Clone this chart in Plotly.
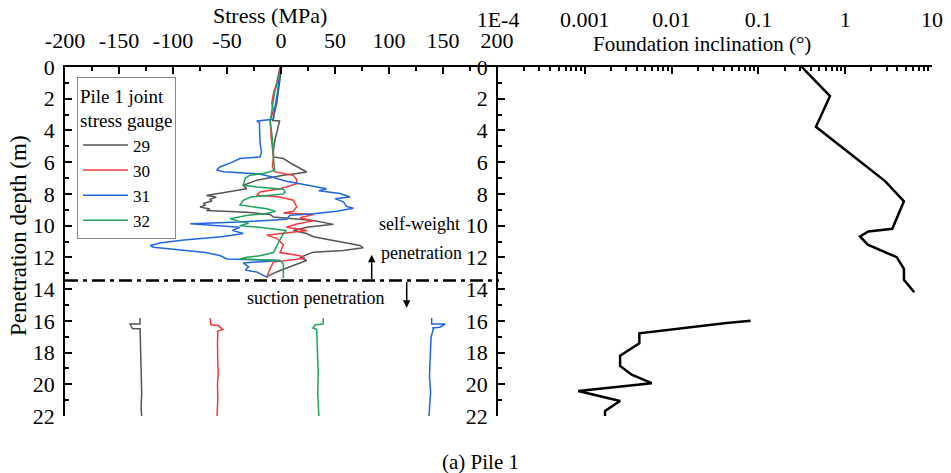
import plotly.graph_objects as go

FONT = "Liberation Serif"

# ---------------- data: stress gauges (depth in m, stress in MPa) ----------------
gauge_names = ["29", "30", "31", "32"]
gauge_colors = ["#555555", "#F03A3A", "#1F66E0", "#1FA35A"]

# self-weight penetration stage
d29_sw = [0, 1.2, 2.3, 2.9, 3.38, 3.41, 3.45, 4.6, 5.24, 5.67, 5.77, 6.1, 6.4, 6.62, 6.72, 6.83,
          7.14, 7.45, 7.67, 7.9, 7.98, 8.1, 8.2, 8.35, 8.45, 8.6, 8.7, 8.83, 8.95, 9.04, 9.15, 9.3,
          9.46, 9.67, 9.92, 10.1, 10.3, 10.5, 10.7, 11.04, 11.25, 11.4, 11.57, 11.67, 12.0, 12.2,
          12.5, 12.83, 13.1, 13.25]
s29_sw = [0.6, -1.5, -4, -6.2, -7.7, -0.9, -1.5, -5.6, -7, -7, 2.2, 10, 17.6, 23.8, 14.5, 2.2,
          -22.5, -35, -31.8, -53, -62, -69, -60, -66, -64, -72, -70, -75, -66, -69, -31.8, -10,
          -7, 30, 48.5, 23.8, 11.4, 23.8, 30, 57.7, 73, 76.2, 57.7, 30, 17.6, 23.8,
          11.4, -0.9, -10, -13.3]

d30_sw = [0, 1.0, 1.66, 2.3, 2.7, 3.4, 4.5, 5.67, 6.3, 6.6, 6.83, 7.1, 7.35, 7.55, 7.67, 7.88,
          8.09, 8.2, 8.4, 8.82, 9.1, 9.2, 9.3, 9.5, 9.7, 9.9, 10.1, 10.3, 10.45, 10.6, 10.8, 11.2,
          11.7, 11.9, 12.05, 12.2, 12.3, 12.7, 13.1, 13.25]
s30_sw = [-1, -4, -7, -8.6, -7, -10, -9, -7, -8, -6, 11.4, 14.5, 14.5, 5, -0.9, -19.4,
          -22.5, -1, 11.4, 14.5, 11.4, 2.2, 30, 17.6, 30, 14.5, 5, 24, 2, -13.3, -4, 2.2,
          -0.9, 17.6, 22, 5.2, -7, -10, -12, -13.3]

d31_sw = [0, 1.5, 2.5, 3.3, 3.41, 3.5, 4.82, 5.35, 5.67, 5.77, 6.0, 6.3, 6.5, 6.6, 6.75, 6.9,
          7.2, 7.45, 7.67, 7.8, 7.98, 8.19, 8.3, 8.5, 8.8, 8.9, 9.1, 9.25, 9.35, 9.6, 9.77, 9.88,
          10.0, 10.1, 10.3, 10.5, 10.7, 10.9, 11.1, 11.25, 11.36, 11.5, 11.7, 11.88, 12.1, 12.2,
          12.35, 12.6, 12.8, 12.93, 13.25]
s31_sw = [-0.9, -3, -5.5, -7, -22.5, -20, -19.4, -18, -19.4, -38, -45, -56.5, -59.6, -53, -20, -10,
          5, 23.8, 42.3, 35, 54.6, 64, 50, 57.7, 61, 67, 51.5, 30, 8.3, 5, -38, -84,
          -60, -38, -45, -35, -55, -90, -112, -121, -118, -100, -70, -56.5, -50, -1,
          -35, -30, -33, -22, -13.3]

d32_sw = [0, 1.66, 3.4, 4.5, 5.67, 6.5, 6.7, 6.82, 7.0, 7.35, 7.46, 7.56, 7.7, 7.88, 8.0, 8.2,
          8.4, 8.7, 8.93, 9.1, 9.25, 9.36, 9.57, 9.7, 9.85, 10.0, 10.1, 10.3, 10.5, 10.9, 11.3,
          11.7, 11.9, 12.0, 12.1, 12.2, 12.4, 13.3]
s32_sw = [0, -6, -10, -8, -7, -6, -15, -28.7, -33, -35, -35, -22.5, 2.2, 4, 2, -28,
          -35, -38, -13, -5, -15, -32, -47, -40, -30, -38, -20, 5, 2.2, -1, -4,
          -7, -19.6, -32, -38, -1, 2.2, 2.2]

# suction penetration stage
d29_su = [15.82, 16.2, 16.2, 16.5, 16.5, 17.5, 18.5, 19.5, 20.5, 21.5, 22.0]
s29_su = [-130.5, -130.5, -139.8, -137.4, -130.5, -130, -129.5, -129.5, -129, -129.5, -129]
d30_su = [15.82, 16.25, 16.3, 16.55, 16.65, 17.5, 18.8, 19.2, 20.0, 21.0, 22.0]
s30_su = [-65.5, -65, -58, -54, -58.5, -58.8, -58.5, -58, -58.8, -58.5, -59.3]
d31_su = [15.82, 16.2, 16.2, 16.4, 16.45, 16.55, 17.0, 17.5, 18.5, 19.5, 20.5, 21.5, 22.0]
s31_su = [139.5, 139.5, 152, 147, 140.5, 141, 139, 138.5, 138, 137.5, 138.5, 137.5, 137]
d32_su = [15.82, 16.2, 16.25, 16.45, 16.55, 17.5, 19.0, 19.3, 20.5, 21.5, 22.0]
s32_su = [39.2, 38.9, 32, 29.5, 33, 33.5, 33.8, 34.5, 34, 34.6, 35]

# ---------------- data: foundation inclination ----------------
incl_depth_sw = [0, 1.83, 3.77, 7.19, 8.47, 10.2, 10.37, 10.68, 11.2, 11.99, 12.73, 13.42, 14.2]
incl_val_sw = [0.316, 0.668, 0.46, 2.88, 4.75, 3.49, 1.85, 1.48, 1.82, 3.92, 4.75, 4.75, 6.25]
incl_depth_su = [16.0, 16.14, 16.79, 17.42, 18.2, 18.84, 19.4, 19.93, 20.42, 21.05, 21.68, 22.0]
incl_val_su = [0.0815, 0.043, 0.00425, 0.00425, 0.00255, 0.00255, 0.00347, 0.0059, 0.00084,
               0.00255, 0.00171, 0.00171]

# ---------------- tick labels ----------------
stress_ticks = [-200, -150, -100, -50, 0, 50, 100, 150, 200]
stress_ticktext = ["-200", "-150", "-100", "-50", "0", "50", "100", "150", "200"]
stress_minor = [-175, -125, -75, -25, 25, 75, 125, 175]
depth_ticks = list(range(0, 23, 2))
incl_ticks = [1e-4, 1e-3, 1e-2, 1e-1, 1, 10]
incl_ticktext = ["1E-4", "0.001", "0.01", "0.1", "1", "10"]
incl_minor = [m * 10 ** e for e in range(-4, 1) for m in range(2, 10)]

boundary_depth = 13.46

fig = go.Figure()

gauges = [(d29_sw, s29_sw, d29_su, s29_su), (d30_sw, s30_sw, d30_su, s30_su),
          (d31_sw, s31_sw, d31_su, s31_su), (d32_sw, s32_sw, d32_su, s32_su)]
for name, color, (dsw, ssw, dsu, ssu) in zip(gauge_names, gauge_colors, gauges):
    fig.add_trace(go.Scatter(
        x=ssw + [None] + ssu, y=dsw + [None] + dsu, mode="lines", name=name,
        line=dict(color=color, width=1.5), xaxis="x", yaxis="y", connectgaps=False))

fig.add_trace(go.Scatter(
    x=incl_val_sw + [None] + incl_val_su, y=incl_depth_sw + [None] + incl_depth_su,
    mode="lines", line=dict(color="black", width=2.5), showlegend=False,
    xaxis="x2", yaxis="y2", connectgaps=False))

W, H = 951, 473
ydom = [1 - 416 / H, 1 - 67 / H]
tickfont = dict(family=FONT, size=22, color="black")
axis_common = dict(showline=True, linecolor="black", linewidth=1.5, showgrid=False,
                   zeroline=False, ticks="inside", tickcolor="black", tickwidth=1.5,
                   tickfont=tickfont, mirror=False, automargin=False)

fig.update_layout(
    width=W, height=H, margin=dict(l=0, r=0, t=0, b=0, autoexpand=False),
    paper_bgcolor="white", plot_bgcolor="white",
    font=dict(family=FONT, color="black"),
    xaxis=dict(domain=[65 / W, 497 / W], range=[-200, 200], side="top", anchor="y",
               tickvals=stress_ticks, ticktext=stress_ticktext, ticklen=7,
               minor=dict(tickvals=stress_minor, ticks="inside", ticklen=4,
                          tickcolor="black", tickwidth=1.5),
               ticklabelstandoff=8, **axis_common),
    yaxis=dict(domain=ydom, range=[22, 0], anchor="x", tickvals=depth_ticks, ticklen=7,
               minor=dict(dtick=1, ticks="inside", ticklen=4, tickcolor="black", tickwidth=1.5),
               ticklabelstandoff=4, **axis_common),
    xaxis2=dict(domain=[498 / W, 932 / W], type="log", range=[-4, 1], side="top", anchor="y2",
                tickvals=incl_ticks, ticktext=incl_ticktext, ticklen=7,
                minor=dict(tickvals=incl_minor, ticks="inside", ticklen=4,
                           tickcolor="black", tickwidth=1.5),
                ticklabelstandoff=29, **axis_common),
    yaxis2=dict(domain=ydom, range=[22, 0], anchor="x2", tickvals=depth_ticks, ticklen=7,
                minor=dict(dtick=1, ticks="inside", ticklen=4, tickcolor="black", tickwidth=1.5),
                ticklabelstandoff=4, **axis_common),
    legend=dict(x=77 / W, y=1 - 77 / H, xanchor="left", yanchor="top",
                bordercolor="#888888", borderwidth=1, bgcolor="white",
                font=dict(family=FONT, size=17, color="black"),
                title=dict(text="Pile 1 joint<br>stress gauge",
                           font=dict(family=FONT, size=19, color="black")),
                itemwidth=45, tracegroupgap=0),
    showlegend=True,
)

# boundary between self-weight and suction penetration
fig.add_shape(type="line", xref="paper", yref="y", x0=65 / W, x1=499 / W,
              y0=boundary_depth, y1=boundary_depth,
              line=dict(color="black", width=2.5, dash="13px,5px,4px,5px"))

ann_font = dict(family=FONT, size=18, color="black")
fig.add_annotation(x=84, y=11.84, ax=84, ay=boundary_depth, xref="x", yref="y",
                   axref="x", ayref="y", text="", showarrow=True, arrowhead=2,
                   arrowsize=1, arrowwidth=1.5, arrowcolor="black")
fig.add_annotation(x=116.4, y=15.18, ax=116.4, ay=boundary_depth, xref="x", yref="y",
                   axref="x", ayref="y", text="", showarrow=True, arrowhead=2,
                   arrowsize=1, arrowwidth=1.5, arrowcolor="black")
fig.add_annotation(x=127.8, y=9.89, xref="x", yref="y", text="self-weight",
                   showarrow=False, font=ann_font, xanchor="center", yanchor="middle")
fig.add_annotation(x=130, y=11.71, xref="x", yref="y", text="penetration",
                   showarrow=False, font=ann_font, xanchor="center", yanchor="middle")
fig.add_annotation(x=31.5, y=14.55, xref="x", yref="y", text="suction penetration",
                   showarrow=False, font=ann_font, xanchor="center", yanchor="middle")

title_font = dict(family=FONT, size=22, color="black")
fig.add_annotation(x=270 / W, y=1 - 15 / H, xref="paper", yref="paper", text="Stress (MPa)",
                   showarrow=False, font=title_font, xanchor="center", yanchor="middle")
fig.add_annotation(x=702 / W, y=1 - 44 / H, xref="paper", yref="paper",
                   text="Foundation inclination (°)", showarrow=False,
                   font=dict(family=FONT, size=21, color="black"),
                   xanchor="center", yanchor="middle")
fig.add_annotation(x=18 / W, y=1 - 236 / H, xref="paper", yref="paper",
                   text="Penetration depth (m)", textangle=-90, showarrow=False,
                   font=dict(family=FONT, size=23, color="black"),
                   xanchor="center", yanchor="middle")
fig.add_annotation(x=480 / W, y=1 - 462 / H, xref="paper", yref="paper", text="(a) Pile 1",
                   showarrow=False, font=dict(family=FONT, size=21, color="black"),
                   xanchor="center", yanchor="middle")

fig.write_html("out.html")
